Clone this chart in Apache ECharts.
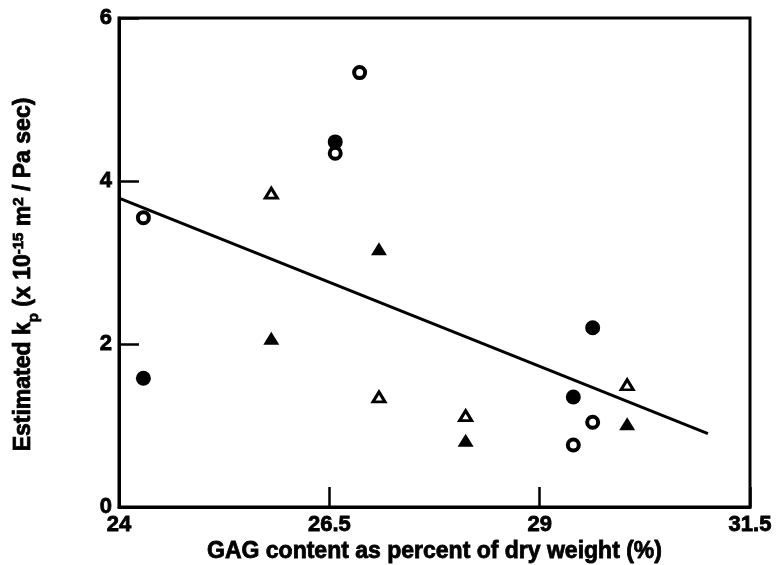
<!DOCTYPE html>
<html>
<head>
<meta charset="utf-8">
<script src="https://cdn.jsdelivr.net/npm/echarts@6/dist/echarts.min.js"></script>
<style>
  html, body { margin: 0; padding: 0; background: #fff; }
  #chart { width: 777px; height: 565px; }
</style>
</head>
<body>
<div id="chart"></div>
<script>
// GAG content (% dry weight) vs. estimated hydraulic permeability k_p
const xTicks = [24, 26.5, 29, 31.5];
const yTicks = [0, 2, 4, 6];

const openCircleX = [24.29, 26.57, 26.86, 29.40, 29.63];
const openCircleY = [3.55, 4.34, 5.33, 0.76, 1.04];

const filledCircleX = [24.29, 26.57, 29.40, 29.63];
const filledCircleY = [1.58, 4.48, 1.35, 2.20];

const openTriangleX = [25.81, 27.09, 28.12, 30.04];
const openTriangleY = [3.85, 1.35, 1.12, 1.50];

const filledTriangleX = [25.81, 27.09, 28.12, 30.04];
const filledTriangleY = [2.07, 3.17, 0.82, 1.02];

// linear regression through all points
const fitX = [24, 31];
const fitY = [3.79, 0.90];

const pairs = (xs, ys) => xs.map((x, i) => [x, ys[i]]);

const FONT = 'Liberation Sans';
const W = 700;
// a thin outline in the text colour makes the heavy print-style lettering
const HEAVY = { textBorderColor: '#000', textBorderWidth: 0.8 };

const chart = echarts.init(document.getElementById('chart'), null, { renderer: 'canvas' });

chart.setOption({
  animation: false,
  backgroundColor: '#fff',
  textStyle: { fontFamily: FONT, fontWeight: W, color: '#000' },
  grid: {
    left: 119, right: 27, top: 18, bottom: 58,
    outerBoundsMode: 'none',
    containLabel: false,
    show: true, borderColor: '#000', borderWidth: 3, backgroundColor: 'transparent'
  },
  xAxis: {
    type: 'value',
    min: xTicks[0], max: xTicks[xTicks.length - 1],
    name: 'GAG content as percent of dry weight (%)',
    nameLocation: 'middle',
    nameGap: 33,
    nameMoveOverlap: false,
    nameTextStyle: Object.assign({ color: '#000', fontFamily: FONT, fontWeight: W, fontSize: 23 }, HEAVY),
    axisLine: { show: true, lineStyle: { color: '#000', width: 3 } },
    axisTick: { show: true, inside: true, length: 20, customValues: xTicks, lineStyle: { color: '#000', width: 2.5 } },
    axisLabel: Object.assign({ customValues: xTicks, margin: 7, color: '#000', fontFamily: FONT, fontWeight: W, fontSize: 22 }, HEAVY),
    splitLine: { show: false }
  },
  yAxis: {
    type: 'value',
    min: 0, max: 6, interval: 2,
    name: '{b|Estimated k}{sub|p}{b| (x 10}{sup|-15}{b| m}{sup|2}{b| / Pa sec)}',
    nameLocation: 'middle',
    nameRotate: 90,
    nameGap: 81,
    nameMoveOverlap: false,
    nameTextStyle: {
      color: '#000',
      padding: [0, 24, 0, 0],
      rich: {
        b: Object.assign({ fontFamily: FONT, fontWeight: W, fontSize: 23, lineHeight: 28, color: '#000' }, HEAVY),
        sub: Object.assign({ fontFamily: FONT, fontWeight: W, fontSize: 15, lineHeight: 28, verticalAlign: 'bottom', padding: [0, 0, -3, 0], color: '#000' }, HEAVY),
        sup: Object.assign({ fontFamily: FONT, fontWeight: W, fontSize: 15, lineHeight: 28, verticalAlign: 'top', padding: [1, 0, 0, 0], color: '#000' }, HEAVY)
      }
    },
    axisLine: { show: true, lineStyle: { color: '#000', width: 3 } },
    axisTick: { show: true, inside: true, length: 20, lineStyle: { color: '#000', width: 2.5 } },
    axisLabel: Object.assign({ margin: 7, color: '#000', fontFamily: FONT, fontWeight: W, fontSize: 22 }, HEAVY),
    splitLine: { show: false }
  },
  series: [
    {
      name: 'fit', type: 'line', data: pairs(fitX, fitY),
      showSymbol: false, symbol: 'none',
      lineStyle: { color: '#000', width: 3 }, z: 2
    },
    {
      name: 'open circles', type: 'scatter', data: pairs(openCircleX, openCircleY),
      symbol: 'circle', symbolSize: 11,
      itemStyle: { color: '#fff', borderColor: '#000', borderWidth: 4, opacity: 1 }, z: 3
    },
    {
      name: 'filled circles', type: 'scatter', data: pairs(filledCircleX, filledCircleY),
      symbol: 'circle', symbolSize: 15,
      itemStyle: { color: '#000', opacity: 1 }, z: 4
    },
    {
      name: 'open triangles', type: 'scatter', data: pairs(openTriangleX, openTriangleY),
      symbol: 'triangle', symbolSize: [12, 10],
      itemStyle: { color: '#fff', borderColor: '#000', borderWidth: 3, opacity: 1 }, z: 3
    },
    {
      name: 'filled triangles', type: 'scatter', data: pairs(filledTriangleX, filledTriangleY),
      symbol: 'triangle', symbolSize: [16, 13],
      itemStyle: { color: '#000', opacity: 1 }, z: 3
    }
  ]
});
</script>
</body>
</html>
